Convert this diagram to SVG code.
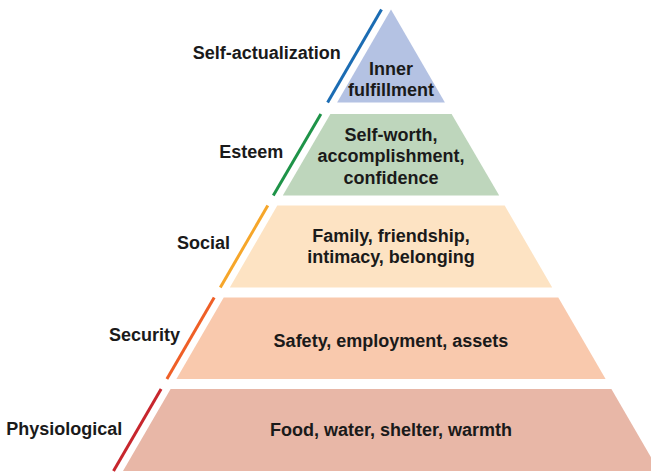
<svg xmlns="http://www.w3.org/2000/svg" width="651" height="472" viewBox="0 0 651 472">
<style>
text{font-family:"Liberation Sans",Arial,sans-serif;font-size:18px;font-weight:bold;fill:#1a1a1a}
.c{text-anchor:middle}
.l{text-anchor:end}
.edge{stroke-width:3;fill:none}
</style>
<rect width="651" height="472" fill="#ffffff"/>
<g id="self-actualization">
<line class="edge" x1="381.5" y1="9.5" x2="327.6" y2="102.5" stroke="#1b6cb3"/>
<polygon points="391,9.5 444.9,102.5 337.1,102.5" fill="#b4c2e3"/>
<text class="l" x="340.7" y="59">Self-actualization</text>
<text class="c" x="391" y="75">Inner</text>
<text class="c" x="391" y="96">fulfillment</text>
</g>
<g id="esteem">
<line class="edge" x1="320.9" y1="114" x2="273.3" y2="195.5" stroke="#1e9348"/>
<polygon points="330.4,114 451.6,114 499.2,195.5 282.8,195.5" fill="#bed6bc"/>
<text class="l" x="283.3" y="157.5">Esteem</text>
<text class="c" x="391" y="140.5">Self-worth,</text>
<text class="c" x="391" y="162">accomplishment,</text>
<text class="c" x="391" y="183.5">confidence</text>
</g>
<g id="social">
<line class="edge" x1="267.8" y1="205.5" x2="220.3" y2="287.5" stroke="#f6a62a"/>
<polygon points="277.3,205.5 504.7,205.5 552.2,287.5 229.8,287.5" fill="#fde3c3"/>
<text class="l" x="230" y="249">Social</text>
<text class="c" x="391" y="241.7">Family, friendship,</text>
<text class="c" x="391" y="263.3">intimacy, belonging</text>
</g>
<g id="security">
<line class="edge" x1="214.2" y1="297.5" x2="166.9" y2="379" stroke="#ef5f27"/>
<polygon points="223.7,297.5 558.3,297.5 605.6,379 176.4,379" fill="#f9c9ad"/>
<text class="l" x="180" y="341">Security</text>
<text class="c" x="391" y="346.5">Safety, employment, assets</text>
</g>
<g id="physiological">
<line class="edge" x1="161.1" y1="389" x2="113.5" y2="471" stroke="#c7262d"/>
<polygon points="170.6,389 611.4,389 659,471 123,471" fill="#e8b7a7"/>
<text class="l" x="122.3" y="435">Physiological</text>
<text class="c" x="391" y="436">Food, water, shelter, warmth</text>
</g>
<g id="connectors"></g>
</svg>
